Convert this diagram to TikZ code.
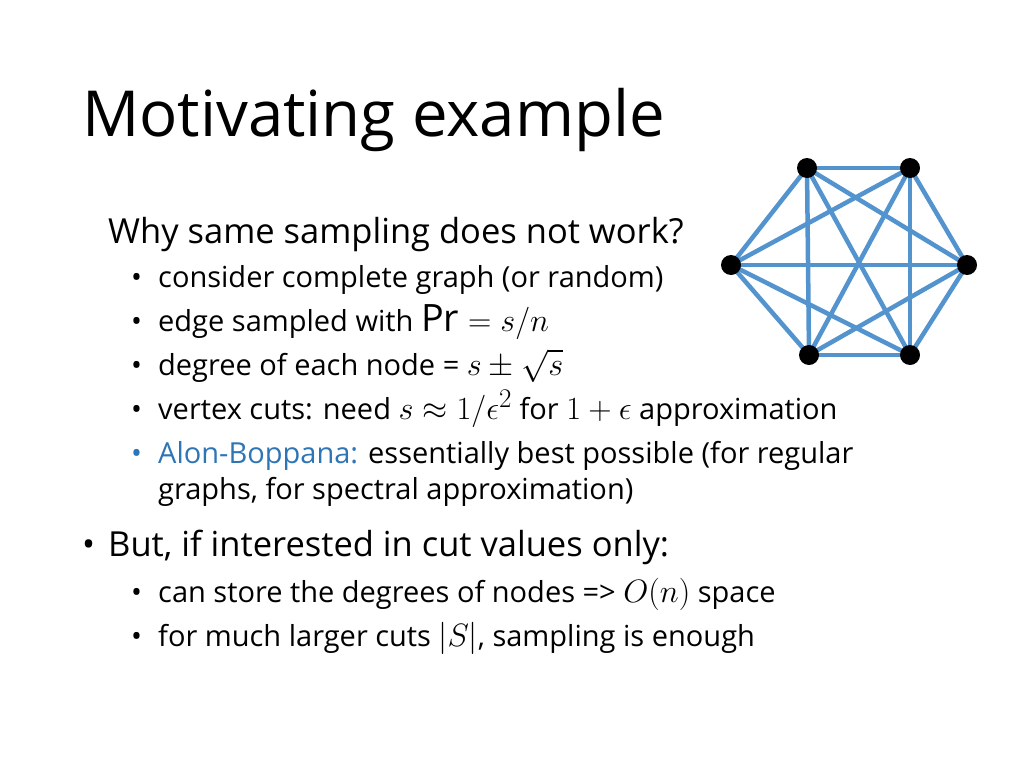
\documentclass[tikz,border=0pt]{standalone}
\usepackage{amsmath}
\usepackage{fontspec}
\setmainfont{Open Sans}
\newcommand{\mm}[1]{\scalebox{1.3}{$#1$}}
\begin{document}
\begin{tikzpicture}[x=1pt,y=-1pt,
  txt/.style={anchor=base west,inner sep=0pt},
  big/.style={txt,font=\fontsize{34.5}{38}\selectfont},
  small/.style={txt,font=\fontsize{29}{33}\selectfont},
  vtx/.style={circle,fill=black,minimum size=20pt,inner sep=0pt},
  edge/.style={line width=4.5pt,color={rgb,255:red,84;green,148;blue,206}}]
\useasboundingbox (0,0) rectangle (1024,768);
\node[txt,font=\fontsize{63.5}{66}\selectfont] (title) at (82,136) {Motivating example};
\node[big] (b1) at (108,243) {Why same sampling does not work?};
\node[small] (s1) at (131,287) {•};\node[small] (t1) at (158,287) {consider complete graph (or random)};
\node[small] (s2) at (131,331) {•};\node[small] (t2) at (158,331) {edge sampled with \mm{\mathrm{Pr}=s/n}};
\node[small] (s3) at (131,375) {•};\node[small] (t3) at (158,375) {degree of each node = \mm{s\pm\sqrt{s}}};
\node[small] (s4) at (131,419) {•};\node[small] (t4) at (158,419) {vertex cuts: need \mm{s\approx 1/\epsilon^2} for \mm{1+\epsilon} approximation};
\node[small,color={rgb,255:red,46;green,117;blue,182}] (s5) at (131,463) {•};
\node[small] (t5) at (158,463) {\textcolor[RGB]{46,117,182}{Alon-Boppana:} essentially best possible (for regular};
\node[small] (t5b) at (158,499) {graphs, for spectral approximation)};
\node[big] (s6) at (82,556) {•};\node[big] (b2) at (108,556) {But, if interested in cut values only:};
\node[small] (s7) at (131,602) {•};\node[small] (t7) at (158,602) {can store the degrees of nodes => \mm{O(n)} space};
\node[small] (s8) at (131,646) {•};\node[small] (t8) at (158,646) {for much larger cuts \mm{|S|}, sampling is enough};
\coordinate (p1) at (807,168);\coordinate (p2) at (910,168);\coordinate (p3) at (967,265);
\coordinate (p4) at (910,355);\coordinate (p5) at (809,355);\coordinate (p6) at (731,265);
\foreach \a/\b in {1/2,1/3,1/4,1/5,1/6,2/3,2/4,2/5,2/6,3/4,3/5,3/6,4/5,4/6,5/6}
  \draw[edge] (p\a) -- (p\b);
\foreach \i in {1,...,6} \node[vtx] (v\i) at (p\i) {};
\end{tikzpicture}
\end{document}
